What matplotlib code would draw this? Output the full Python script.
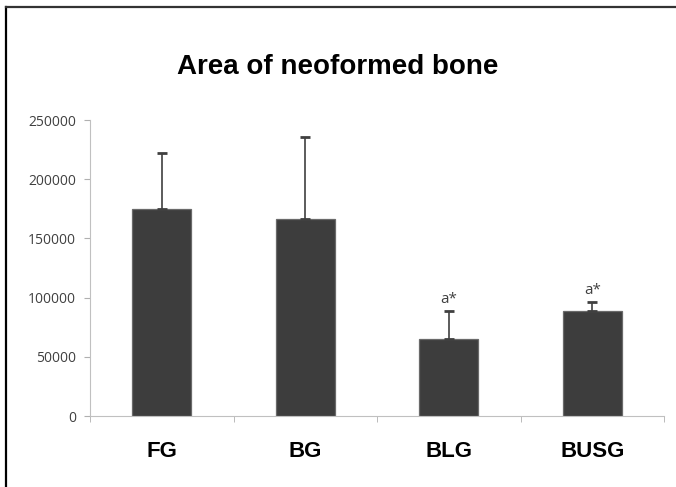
import matplotlib.pyplot as plt
from matplotlib.lines import Line2D
import numpy as np

# Data
groups = ["FG", "BG", "BLG", "BUSG"]
area_mean = [175000, 166500, 65000, 88500]
area_sd = [47000, 69500, 23500, 7500]
sig_labels = ["", "", "a*", "a*"]
y_ticks = [0, 50000, 100000, 150000, 200000, 250000]

fig = plt.figure(figsize=(6.76, 4.87), dpi=100)
W, H = 676, 487
ax = fig.add_axes([90 / W, 1 - 416 / H, (664 - 90) / W, (416 - 120) / H])

x = np.arange(len(groups))
ax.bar(x, area_mean, width=0.41, color="#3d3d3d", edgecolor="#6a6a6a",
       linewidth=0.9, zorder=2)
ax.errorbar(x, area_mean, yerr=[np.zeros(len(groups)), area_sd], fmt="none",
            ecolor="#404040", elinewidth=1.2, capsize=3.5, capthick=2, zorder=3)

for xi, m, s, lab in zip(x, area_mean, area_sd, sig_labels):
    if lab:
        ax.text(xi, m + s + 3500, lab, ha="center", va="bottom",
                fontsize=11, color="#404040", family="Open Sans")

ax.set_xlim(-0.5, len(groups) - 0.5)
ax.set_ylim(0, 250000)
ax.set_yticks(y_ticks)
ax.set_yticklabels([str(v) for v in y_ticks], fontsize=10, color="#404040",
                   family="Open Sans")
ax.set_xticks(x)
ax.set_xticklabels(groups, fontsize=16, fontweight="bold",
                   family="Liberation Sans")
ax.tick_params(axis="x", length=0, pad=18)
ax.set_xticks(np.arange(-0.5, len(groups)), minor=True)
ax.tick_params(axis="x", which="minor", length=4, color="#b0b0b0")
ax.tick_params(axis="y", length=4, color="#b0b0b0", pad=6)

for side in ["top", "right"]:
    ax.spines[side].set_visible(False)
ax.spines["left"].set_color("#c0c0c0")
ax.spines["bottom"].set_color("#c0c0c0")

fig.text(338 / W, 1 - 67 / H, "Area of neoformed bone", ha="center",
         va="center", fontsize=20, fontweight="bold", family="Liberation Sans")

# cropped frame: only top and left edges visible
fig.add_artist(Line2D([6 / W, 6 / W], [0, 1 - 7 / H], transform=fig.transFigure,
                      color="black", linewidth=1.6))
fig.add_artist(Line2D([6 / W, 1], [1 - 7 / H, 1 - 7 / H], transform=fig.transFigure,
                      color="#333333", linewidth=1.6))

fig.savefig("out.png", dpi=100)
